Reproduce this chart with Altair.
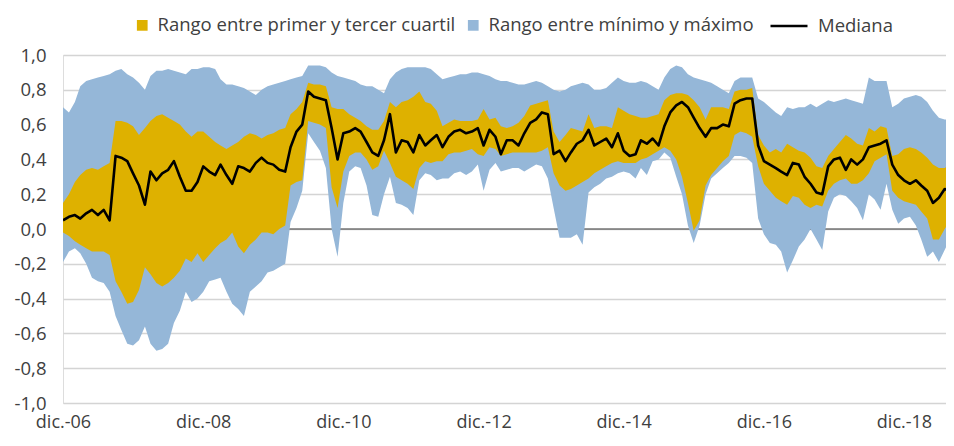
import altair as alt
import pandas as pd

# ---- data (monthly readings, Dec-2006 .. Aug-2019) ----
start_month = "2006-12-01"
n_months = 153

maximo = [0.70, 0.67, 0.73, 0.82, 0.85, 0.86, 0.87, 0.88, 0.89, 0.91,
          0.92, 0.89, 0.87, 0.84, 0.80, 0.88, 0.91, 0.91, 0.92, 0.91,
          0.90, 0.89, 0.92, 0.92, 0.93, 0.93, 0.92, 0.86, 0.83, 0.83,
          0.82, 0.81, 0.79, 0.77, 0.80, 0.82, 0.83, 0.84, 0.85, 0.86,
          0.87, 0.88, 0.94, 0.94, 0.94, 0.93, 0.90, 0.88, 0.87, 0.86,
          0.85, 0.83, 0.82, 0.82, 0.80, 0.78, 0.86, 0.90, 0.92, 0.93,
          0.93, 0.93, 0.93, 0.92, 0.89, 0.86, 0.87, 0.88, 0.89, 0.89,
          0.90, 0.90, 0.89, 0.88, 0.86, 0.85, 0.85, 0.84, 0.83, 0.83,
          0.84, 0.85, 0.84, 0.82, 0.80, 0.79, 0.80, 0.82, 0.83, 0.84,
          0.83, 0.80, 0.80, 0.81, 0.84, 0.87, 0.85, 0.84, 0.84, 0.85,
          0.84, 0.82, 0.80, 0.87, 0.92, 0.94, 0.93, 0.89, 0.87, 0.86,
          0.85, 0.84, 0.82, 0.80, 0.78, 0.85, 0.87, 0.87, 0.87, 0.75,
          0.73, 0.70, 0.67, 0.65, 0.70, 0.69, 0.70, 0.70, 0.72, 0.70,
          0.72, 0.74, 0.73, 0.74, 0.75, 0.74, 0.73, 0.72, 0.87, 0.85,
          0.85, 0.85, 0.70, 0.72, 0.75, 0.76, 0.77, 0.76, 0.73, 0.68,
          0.64, 0.63, 0.63]

tercer_cuartil = [0.15, 0.20, 0.27, 0.31, 0.34, 0.35, 0.34, 0.36, 0.38, 0.62,
                  0.62, 0.61, 0.59, 0.54, 0.58, 0.62, 0.65, 0.66, 0.64, 0.62,
                  0.60, 0.56, 0.53, 0.56, 0.56, 0.53, 0.50, 0.48, 0.46, 0.48,
                  0.50, 0.53, 0.55, 0.54, 0.52, 0.54, 0.55, 0.57, 0.58, 0.66,
                  0.69, 0.73, 0.84, 0.83, 0.83, 0.82, 0.70, 0.69, 0.69, 0.66,
                  0.64, 0.62, 0.59, 0.57, 0.57, 0.62, 0.73, 0.70, 0.73, 0.74,
                  0.76, 0.79, 0.73, 0.72, 0.68, 0.59, 0.61, 0.63, 0.62, 0.62,
                  0.62, 0.63, 0.69, 0.63, 0.64, 0.59, 0.58, 0.59, 0.61, 0.65,
                  0.71, 0.72, 0.73, 0.74, 0.56, 0.50, 0.54, 0.58, 0.57, 0.56,
                  0.66, 0.58, 0.59, 0.59, 0.58, 0.70, 0.68, 0.66, 0.65, 0.64,
                  0.64, 0.65, 0.66, 0.74, 0.77, 0.78, 0.78, 0.77, 0.74, 0.70,
                  0.63, 0.70, 0.70, 0.70, 0.69, 0.79, 0.80, 0.80, 0.81, 0.54,
                  0.48, 0.44, 0.46, 0.44, 0.49, 0.47, 0.45, 0.44, 0.41, 0.36,
                  0.35, 0.42, 0.46, 0.50, 0.54, 0.52, 0.49, 0.48, 0.58, 0.56,
                  0.59, 0.58, 0.42, 0.43, 0.46, 0.47, 0.46, 0.44, 0.41, 0.37,
                  0.35, 0.35, 0.37]

mediana = [0.05, 0.07, 0.08, 0.06, 0.09, 0.11, 0.08, 0.11, 0.05, 0.42,
           0.41, 0.39, 0.32, 0.25, 0.14, 0.33, 0.28, 0.32, 0.34, 0.39,
           0.30, 0.22, 0.22, 0.27, 0.36, 0.33, 0.31, 0.37, 0.31, 0.26,
           0.36, 0.35, 0.33, 0.38, 0.41, 0.38, 0.37, 0.34, 0.33, 0.47,
           0.56, 0.60, 0.79, 0.76, 0.75, 0.74, 0.58, 0.40, 0.55, 0.56,
           0.58, 0.56, 0.50, 0.44, 0.42, 0.51, 0.66, 0.44, 0.51, 0.50,
           0.44, 0.54, 0.48, 0.51, 0.54, 0.47, 0.53, 0.56, 0.57, 0.55,
           0.56, 0.58, 0.48, 0.57, 0.53, 0.43, 0.51, 0.51, 0.48, 0.55,
           0.61, 0.63, 0.67, 0.66, 0.43, 0.45, 0.39, 0.44, 0.49, 0.51,
           0.57, 0.48, 0.50, 0.52, 0.47, 0.55, 0.45, 0.42, 0.43, 0.51,
           0.49, 0.52, 0.48, 0.59, 0.67, 0.71, 0.73, 0.70, 0.64, 0.58,
           0.53, 0.58, 0.58, 0.60, 0.59, 0.72, 0.74, 0.75, 0.75, 0.48,
           0.39, 0.37, 0.35, 0.33, 0.31, 0.38, 0.37, 0.30, 0.26, 0.21,
           0.20, 0.36, 0.40, 0.41, 0.34, 0.40, 0.37, 0.40, 0.47, 0.48,
           0.49, 0.51, 0.37, 0.31, 0.28, 0.26, 0.28, 0.25, 0.22, 0.15,
           0.18, 0.23, 0.22]

primer_cuartil = [-0.02, -0.04, -0.07, -0.09, -0.11, -0.13, -0.13, -0.13, -0.15, -0.30,
                  -0.36, -0.43, -0.42, -0.35, -0.22, -0.26, -0.31, -0.33, -0.31, -0.28,
                  -0.24, -0.17, -0.19, -0.14, -0.19, -0.15, -0.11, -0.08, -0.06, -0.02,
                  -0.10, -0.14, -0.09, -0.06, -0.02, -0.02, -0.03, 0.00, 0.02, 0.25,
                  0.27, 0.28, 0.62, 0.61, 0.60, 0.58, 0.24, 0.12, 0.33, 0.42,
                  0.44, 0.44, 0.40, 0.34, 0.36, 0.45, 0.38, 0.30, 0.28, 0.26,
                  0.23, 0.35, 0.39, 0.38, 0.39, 0.39, 0.43, 0.44, 0.44, 0.45,
                  0.46, 0.43, 0.42, 0.47, 0.46, 0.42, 0.43, 0.44, 0.44, 0.44,
                  0.44, 0.44, 0.45, 0.47, 0.32, 0.25, 0.22, 0.23, 0.25, 0.27,
                  0.29, 0.32, 0.34, 0.36, 0.38, 0.39, 0.38, 0.38, 0.38, 0.40,
                  0.41, 0.43, 0.45, 0.47, 0.45, 0.40, 0.30, 0.15, -0.01, 0.05,
                  0.25, 0.31, 0.35, 0.39, 0.42, 0.54, 0.56, 0.55, 0.53, 0.36,
                  0.26, 0.22, 0.18, 0.16, 0.14, 0.19, 0.18, 0.14, 0.12, 0.14,
                  0.13, 0.22, 0.26, 0.28, 0.29, 0.26, 0.26, 0.28, 0.32, 0.39,
                  0.41, 0.43, 0.22, 0.18, 0.16, 0.15, 0.14, 0.10, 0.06, -0.06,
                  -0.06, 0.00, 0.05]

minimo = [-0.19, -0.13, -0.11, -0.14, -0.20, -0.28, -0.30, -0.31, -0.36, -0.50,
          -0.58, -0.66, -0.67, -0.64, -0.56, -0.66, -0.70, -0.69, -0.66, -0.54,
          -0.47, -0.36, -0.42, -0.40, -0.36, -0.30, -0.29, -0.28, -0.36, -0.43,
          -0.46, -0.50, -0.36, -0.33, -0.30, -0.25, -0.24, -0.22, -0.20, 0.04,
          0.12, 0.22, 0.55, 0.50, 0.45, 0.35, 0.00, -0.16, 0.15, 0.33,
          0.36, 0.35, 0.25, 0.08, 0.07, 0.20, 0.30, 0.15, 0.14, 0.12,
          0.08, 0.28, 0.32, 0.31, 0.28, 0.29, 0.29, 0.32, 0.33, 0.31,
          0.33, 0.37, 0.22, 0.34, 0.38, 0.33, 0.34, 0.35, 0.35, 0.33,
          0.35, 0.37, 0.36, 0.29, 0.12, -0.05, -0.05, -0.05, -0.03, -0.09,
          0.21, 0.24, 0.26, 0.29, 0.30, 0.32, 0.33, 0.32, 0.29, 0.35,
          0.31, 0.39, 0.40, 0.44, 0.41, 0.30, 0.20, 0.02, -0.08, 0.02,
          0.20, 0.29, 0.32, 0.35, 0.38, 0.42, 0.42, 0.41, 0.38, 0.06,
          -0.03, -0.08, -0.09, -0.13, -0.25, -0.18, -0.10, -0.06, 0.00, -0.06,
          -0.12, 0.10, 0.18, 0.20, 0.19, 0.16, 0.12, 0.05, 0.20, 0.17,
          0.11, 0.26, 0.11, 0.03, 0.06, 0.07, 0.02, -0.06, -0.16, -0.13,
          -0.19, -0.12, -0.05]

y_ticks = [-1.0, -0.8, -0.6, -0.4, -0.2, 0.0, 0.2, 0.4, 0.6, 0.8, 1.0]
x_tick_years = [2006, 2008, 2010, 2012, 2014, 2016, 2018]

LBL_Q = "Rango entre primer y tercer cuartil"
LBL_MM = "Rango entre mínimo y máximo"
LBL_MED = "Mediana"

GOLD = "#DEB100"
BLUE = "#95B7D8"
TEXT = "#404040"
FONT = "Open Sans"
FS = 18.5

df = pd.DataFrame({
    "fecha": pd.date_range(start_month, periods=n_months, freq="MS"),
    "minimo": minimo,
    "q1": primer_cuartil,
    "mediana": mediana,
    "q3": tercer_cuartil,
    "maximo": maximo,
})

x_enc = alt.X(
    "fecha:T",
    scale=alt.Scale(domain=[alt.DateTime(year=2006, month=12, date=1),
                            alt.DateTime(year=2019, month=7, date=8)]),
    axis=alt.Axis(
        values=[alt.DateTime(year=y, month=12, date=1) for y in x_tick_years],
        labelExpr="'dic.-' + timeFormat(datum.value, '%y')",
        title=None, grid=False, domain=False, ticks=False,
        labelFontSize=18, labelColor=TEXT, labelFont=FONT, labelPadding=10,
        labelFlush=False,
    ),
)

y_scale = alt.Scale(domain=[-1, 1], nice=False, zero=False)
y_axis = alt.Axis(
    values=y_ticks,
    labelExpr="(datum.value < -0.001 ? '-' : '') + replace(format(abs(datum.value), '.1f'), '.', ',')",
    title=None, grid=True, gridColor="#D4D4D4", gridWidth=1.4,
    domain=False, ticks=False, labelFontSize=FS, labelColor=TEXT,
    labelFont=FONT, labelPadding=17,
)

fill_scale = alt.Scale(domain=[LBL_Q, LBL_MM], range=[GOLD, BLUE])
fill_legend = alt.Legend(
    orient="none", legendX=70, legendY=-39, direction="horizontal",
    title=None, symbolType="square", symbolSize=115, symbolStrokeWidth=0,
    labelFontSize=FS, labelColor=TEXT, labelFont=FONT, labelOffset=6,
    labelLimit=600, columnPadding=8,
)

base = alt.Chart(df).encode(x=x_enc)

zero_df = pd.DataFrame({"cero": [0.0]})
zero_rule = alt.Chart(zero_df).mark_rule(color="#3A3A3A", strokeWidth=1).encode(
    y=alt.Y("cero:Q", scale=y_scale, axis=y_axis)
)

band_mm = base.transform_calculate(serie=f"'{LBL_MM}'").mark_area(
    interpolate="linear", clip=True
).encode(
    y=alt.Y("minimo:Q", scale=y_scale, axis=y_axis),
    y2="maximo:Q",
    fill=alt.Fill("serie:N", scale=fill_scale, legend=fill_legend),
)

band_q = base.transform_calculate(serie=f"'{LBL_Q}'").mark_area(
    interpolate="linear", clip=True
).encode(
    y=alt.Y("q1:Q", scale=y_scale, axis=y_axis),
    y2="q3:Q",
    fill=alt.Fill("serie:N", scale=fill_scale, legend=fill_legend),
)

line_med = base.transform_calculate(serie_l=f"'{LBL_MED}'").mark_line(
    strokeWidth=2.6, strokeJoin="round", clip=True
).encode(
    y=alt.Y("mediana:Q", scale=y_scale, axis=y_axis),
    stroke=alt.Stroke(
        "serie_l:N",
        scale=alt.Scale(domain=[LBL_MED], range=["#000000"]),
        legend=alt.Legend(
            orient="none", legendX=706, legendY=-49, title=None,
            symbolType="stroke", symbolSize=1369, symbolStrokeWidth=2.6,
            labelFontSize=FS, labelColor=TEXT, labelFont=FONT, labelOffset=9,
            labelLimit=600,
        ),
    ),
)

chart = alt.layer(zero_rule, band_mm, band_q, line_med).properties(
    width=883,
    height=348,
    autosize=alt.AutoSizeParams(type="none"),
    padding={"left": 55, "top": 47, "right": 0, "bottom": 35},
).configure_view(stroke=None).configure(font=FONT)

chart.save("out.html", embed_options={"renderer": "svg", "actions": False})
